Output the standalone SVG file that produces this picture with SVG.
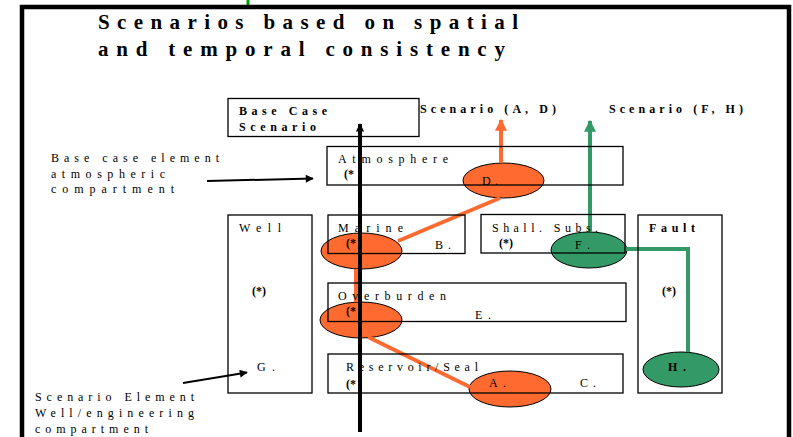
<svg xmlns="http://www.w3.org/2000/svg" width="793" height="437" viewBox="0 0 793 437">
<style>
text{font-family:"Liberation Serif","Times New Roman",serif;fill:#000}
.t{font-size:21px;font-weight:bold}
.s{font-size:12px}
.b{font-weight:bold}
.box{fill:none;stroke:#000;stroke-width:1.3}
.or{fill:#FF6A30;stroke:#000;stroke-width:1}
.gr{fill:#339966;stroke:#000;stroke-width:1}
.ol{stroke:#FF6A30;stroke-width:4;fill:none}
.gl{stroke:#339966;stroke-width:4;fill:none}
</style>
<defs>
<marker id="ao" viewBox="0 0 10 10" refX="9" refY="5" markerWidth="3" markerHeight="3" orient="auto" markerUnits="strokeWidth"><path d="M0,0L10,5L0,10z" fill="#FF6A30"/></marker>
<marker id="ag" viewBox="0 0 10 10" refX="9" refY="5" markerWidth="3.2" markerHeight="3" orient="auto" markerUnits="strokeWidth"><path d="M0,0L10,5L0,10z" fill="#339966"/></marker>
<marker id="ab" viewBox="0 0 10 10" refX="9" refY="5" markerWidth="2.3" markerHeight="2.1" orient="auto" markerUnits="strokeWidth"><path d="M0,0L10,5L0,10z" fill="#000"/></marker>
<marker id="ak" viewBox="0 0 10 10" refX="9" refY="5" markerWidth="5" markerHeight="4" orient="auto" markerUnits="strokeWidth"><path d="M0,0L10,5L0,10z" fill="#000"/></marker>
</defs>
<rect width="793" height="437" fill="#fff"/>
<line x1="248" y1="0" x2="248" y2="6" stroke="#00A000" stroke-width="3"/>
<path d="M22,460V7H789V460" fill="none" stroke="#000" stroke-width="4.5"/>
<g id="title">
<text class="t" x="98" y="29" textLength="420" lengthAdjust="spacing">Scenarios based on spatial</text>
<text class="t" x="98" y="56" textLength="407" lengthAdjust="spacing">and temporal consistency</text>
</g>
<g id="ellipses">
<ellipse id="D" class="or" cx="503.5" cy="180.5" rx="40.5" ry="17.5"/>
<ellipse id="marineE" class="or" cx="361.5" cy="251" rx="40.5" ry="18"/>
<ellipse id="overE" class="or" cx="361" cy="320" rx="41" ry="18"/>
<ellipse id="A" class="or" cx="510" cy="389" rx="41" ry="18"/>
<ellipse id="F" class="gr" cx="589" cy="250" rx="38" ry="18"/>
<ellipse id="H" class="gr" cx="681" cy="369.5" rx="38" ry="17.5"/>
</g>
<g id="connectors">
<line class="ol" x1="501" y1="163" x2="501" y2="120" marker-end="url(#ao)"/>
<line class="gl" x1="590" y1="232" x2="590" y2="121" marker-end="url(#ag)"/>
<polyline class="gl" points="626,249 688,249 688,352"/>
<line class="ol" x1="398" y1="241" x2="500" y2="198"/>
<line class="ol" x1="356" y1="269" x2="356" y2="302"/>
<line class="ol" x1="368" y1="337" x2="470" y2="387"/>
<line x1="207" y1="181" x2="313" y2="178.5" stroke="#000" stroke-width="2" marker-end="url(#ak)"/>
<line x1="183" y1="383" x2="247" y2="372.5" stroke="#000" stroke-width="2" marker-end="url(#ak)"/>
</g>
<g id="base"><rect class="box" x="228" y="98.5" width="191" height="38"/>
<text class="s b" x="239" y="115" textLength="88" lengthAdjust="spacing">Base Case</text>
<text class="s b" x="239" y="131" textLength="77" lengthAdjust="spacing">Scenario</text></g>
<g id="scenAD"><text class="s b" x="420" y="113" textLength="136" lengthAdjust="spacing">Scenario (A, D)</text></g>
<g id="scenFH"><text class="s b" x="609" y="113" textLength="134" lengthAdjust="spacing">Scenario (F, H)</text></g>
<g id="atmosphere"><rect class="box" x="327" y="146.5" width="296" height="38.5"/>
<text class="s" x="338" y="163" textLength="110" lengthAdjust="spacing">Atmosphere</text>
<text class="s b" x="344" y="178">(*</text>
<text class="s" x="482" y="185" textLength="16" lengthAdjust="spacing">D.</text></g>
<g id="well"><rect class="box" x="228" y="215" width="84" height="178"/>
<text class="s" x="239" y="232" textLength="42" lengthAdjust="spacing">Well</text>
<text class="s b" x="252" y="295">(*)</text>
<text class="s" x="257" y="371" textLength="18" lengthAdjust="spacing">G.</text></g>
<g id="marine"><rect class="box" x="328" y="215" width="137" height="38.5"/>
<text class="s" x="338" y="232" textLength="65" lengthAdjust="spacing">Marine</text>
<text class="s b" x="346" y="247">(*</text>
<text class="s" x="435" y="249" textLength="16" lengthAdjust="spacing">B.</text></g>
<g id="shallow"><rect class="box" x="481" y="214.5" width="144" height="38.5"/>
<text class="s" x="492" y="232" textLength="106" lengthAdjust="spacing">Shall. Subs.</text>
<text class="s b" x="499" y="247">(*)</text>
<text class="s" x="575" y="249" textLength="15" lengthAdjust="spacing">F.</text></g>
<g id="fault"><rect class="box" x="638" y="215" width="84" height="178"/>
<text class="s b" x="649" y="232" textLength="46" lengthAdjust="spacing">Fault</text>
<text class="s b" x="662" y="295">(*)</text>
<text class="s b" x="668" y="371" textLength="18" lengthAdjust="spacing">H.</text></g>
<g id="overburden"><rect class="box" x="328" y="283" width="298" height="38.5"/>
<text class="s" x="338" y="300" textLength="108" lengthAdjust="spacing">Overburden</text>
<text class="s b" x="346" y="315">(*</text>
<text class="s" x="475" y="319" textLength="16" lengthAdjust="spacing">E.</text></g>
<g id="reservoir"><rect class="box" x="328" y="354" width="295" height="39"/>
<text class="s" x="346" y="371" textLength="132" lengthAdjust="spacing">Reservoir/Seal</text>
<text class="s b" x="346" y="388">(*</text>
<text class="s" x="489" y="387" textLength="17" lengthAdjust="spacing">A.</text>
<text class="s" x="580" y="387" textLength="16" lengthAdjust="spacing">C.</text></g>
<g id="label1">
<text class="s" x="51" y="162" textLength="168" lengthAdjust="spacing">Base case element</text>
<text class="s" x="51" y="178" textLength="114" lengthAdjust="spacing">atmospheric</text>
<text class="s" x="51" y="193" textLength="123" lengthAdjust="spacing">compartment</text>
</g>
<g id="label2">
<text class="s" x="35" y="401" textLength="159" lengthAdjust="spacing">Scenario Element</text>
<text class="s" x="35" y="417" textLength="159" lengthAdjust="spacing">Well/engineering</text>
<text class="s" x="35" y="433" textLength="113" lengthAdjust="spacing">compartment</text>
</g>
<g id="mainArrow"><line x1="360" y1="432" x2="360" y2="124" stroke="#000" stroke-width="4" marker-end="url(#ab)"/></g>
</svg>
